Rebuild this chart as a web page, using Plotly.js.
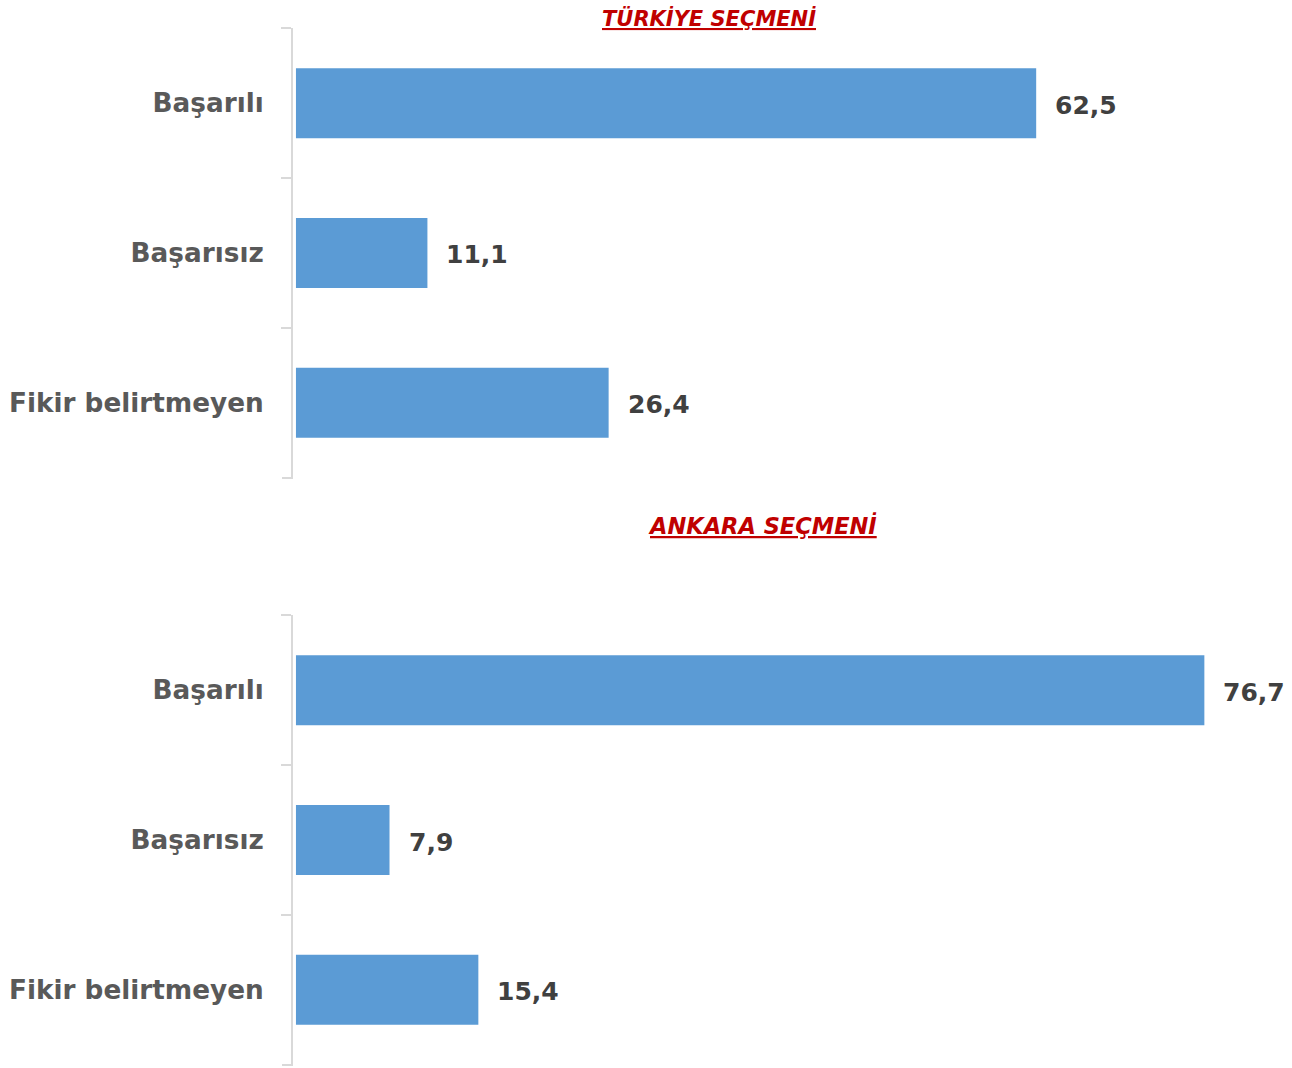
<!DOCTYPE html>
<html>
<head>
<meta charset="utf-8">
<script src="https://cdn.plot.ly/plotly-3.0.1.min.js"></script>
<style>html,body{margin:0;padding:0;background:#fff;}#chart{width:1292px;height:1068px;}</style>
</head>
<body>
<div id="chart"></div>
<script>
const categories = ["Başarılı", "Başarısız", "Fikir belirtmeyen"];
const turkiyeValues = [62.5, 11.1, 26.4];
const ankaraValues = [76.7, 7.9, 15.4];
const titles = ["TÜRKİYE SEÇMENİ", "ANKARA SEÇMENİ"];

const FONT = "DejaVu Sans, sans-serif";
const barColor = "#5b9bd5";

const traces = [
  {type: "bar", orientation: "h", x: turkiyeValues, y: categories, xaxis: "x", yaxis: "y",
   marker: {color: barColor}, hoverinfo: "skip"},
  {type: "bar", orientation: "h", x: ankaraValues, y: categories, xaxis: "x2", yaxis: "y2",
   marker: {color: barColor}, hoverinfo: "skip"}
];

function fmt(v) { return v.toFixed(1).replace(".", ","); }

const annotations = [];
turkiyeValues.forEach((v, i) => annotations.push({
  x: v, y: categories[i], xref: "x", yref: "y", text: "<b>" + fmt(v) + "</b>",
  showarrow: false, xanchor: "left", xshift: 17, yshift: -2,
  font: {family: FONT, size: 25, color: "#404040"}
}));
ankaraValues.forEach((v, i) => annotations.push({
  x: v, y: categories[i], xref: "x2", yref: "y2", text: "<b>" + fmt(v) + "</b>",
  showarrow: false, xanchor: "left", xshift: 17, yshift: -2,
  font: {family: FONT, size: 25, color: "#404040"}
}));
annotations.push({
  x: 709, y: 1 - 18/1068, xref: "paper", yref: "paper", xanchor: "center", yanchor: "middle",
  text: "<b><i><u>" + titles[0] + "</u></i></b>", showarrow: false,
  font: {family: FONT, size: 21, color: "#c00000"}
});
annotations.push({
  x: 762, y: 1 - 525/1068, xref: "paper", yref: "paper", xanchor: "center", yanchor: "middle",
  text: "<b><i><u>" + titles[1] + "</u></i></b>", showarrow: false,
  font: {family: FONT, size: 22.5, color: "#c00000"}
});
annotations.forEach(a => { if (a.xref === "paper") a.x = (a.x - 293) / (1292 - 293); });

// bottom end tick of each category axis (axis decoration)
const shapes = ["", "2"].map(s => ({
  type: "line", xref: "x" + s + " domain", yref: "y" + s + " domain",
  x0: -11/999, x1: 0, y0: 0, y1: 0, line: {color: "#d9d9d9", width: 2}
}));

const xRange = [-0.25, 84.1];
const yAxisCommon = {
  type: "category", categoryorder: "array", categoryarray: categories,
  range: [2.502, -0.502], showline: true, linecolor: "#d9d9d9", linewidth: 2,
  ticks: "outside", ticklen: 10, tickcolor: "#d9d9d9", tickwidth: 2, tickson: "boundaries",
  showgrid: false, zeroline: false, ticklabelstandoff: 22,
  tickfont: {family: FONT, size: 26.3, color: "#595959", weight: "bold"}
};
const xAxisCommon = {range: xRange, visible: false, fixedrange: true};

const layout = {
  width: 1292, height: 1068,
  margin: {l: 293, r: 0, t: 0, b: 0},
  paper_bgcolor: "#ffffff", plot_bgcolor: "#ffffff",
  showlegend: false, bargap: 0.533,
  xaxis: Object.assign({anchor: "y"}, xAxisCommon),
  xaxis2: Object.assign({anchor: "y2"}, xAxisCommon),
  yaxis: Object.assign({anchor: "x", domain: [1 - 478/1068, 1 - 28/1068]}, yAxisCommon),
  yaxis2: Object.assign({anchor: "x2", domain: [1 - 1065/1068, 1 - 615/1068]}, yAxisCommon),
  annotations: annotations,
  shapes: shapes
};

Plotly.newPlot("chart", traces, layout, {staticPlot: true});
</script>
</body>
</html>
